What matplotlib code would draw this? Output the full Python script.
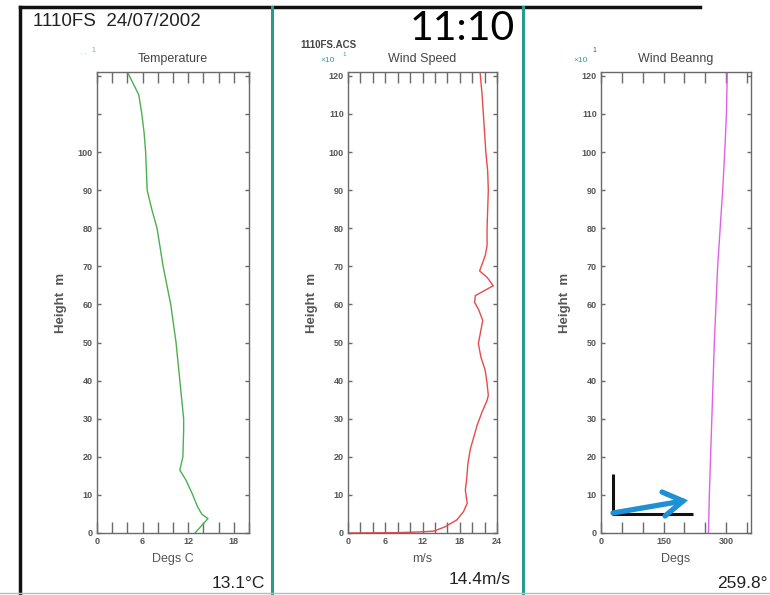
import matplotlib
matplotlib.use("Agg")
import matplotlib.pyplot as plt
from matplotlib.patches import FancyArrowPatch

# ---------------- data ----------------
temp_height = [0, 3.8, 4.9, 7, 10, 13.9, 16.5, 20, 27, 30, 40, 50, 60, 70, 80, 85, 90,
               100, 105, 110, 115, 117, 119, 121]
temp_degc = [12.9, 14.6, 13.8, 13.2, 12.6, 11.7, 10.9, 11.3, 11.4, 11.4, 10.9, 10.4, 9.7,
             8.7, 7.9, 7.2, 6.6, 6.4, 6.2, 5.9, 5.5, 5.0, 4.5, 4.0]

speed_height = [0, 0.1, 0.3, 0.5, 1.6, 3.4, 5.6, 7.8, 11.3, 13.9, 18, 22, 28.3, 31.8, 34.8,
                36.1, 39.3, 42.7, 46.2, 49.7, 52.3, 55.8, 58.8, 60.5, 62.3, 64.9, 67.1,
                68.8, 72.8, 75.4, 80, 85, 90, 95, 100, 105, 110, 115, 120.5]
speed_ms = [0, 8, 11.9, 13.8, 15.6, 17.5, 18.6, 19.2, 18.9, 19.1, 19.3, 19.7, 20.8, 21.6,
            22.4, 22.6, 22.4, 22.1, 21.4, 21.0, 21.3, 21.7, 21.0, 20.4, 20.5, 23.4, 22.4,
            21.2, 22.1, 22.4, 22.4, 22.5, 22.6, 22.5, 22.2, 22.0, 21.8, 21.6, 21.3]

bearing_height = [0, 5, 10, 20, 30, 40, 50, 60, 70, 80, 90, 100, 110, 120.5]
bearing_deg = [258, 259, 260, 263, 266, 269, 272, 276, 280, 286, 292, 297, 301, 303]

panel_titles = ["Temperature", "Wind Speed", "Wind Beanng"]
x_labels = ["Degs C", "m/s", "Degs"]
surface_values = ["13.1°C", "14.4m/s", "259.8°"]
header_text = "1110FS  24/07/2002"
time_text = "11:10"
file_text = "1110FS.ACS"

temp_xticks = list(range(0, 21, 2))
temp_xlabels = [0, 6, 12, 18]
speed_xticks = list(range(0, 25, 2))
speed_xlabels = [0, 6, 12, 18, 24]
bear_xticks = list(range(0, 351, 50))
bear_xlabels = [0, 150, 300]
y_ticks = list(range(0, 121, 10))

# ---------------- layout ----------------
W, H = 770, 595
fig = plt.figure(figsize=(W / 100, H / 100), dpi=100)
fig.patch.set_facecolor("white")

GRAY = "#6a6a6a"
TEXT = "#555555"
FONT = ["Liberation Sans", "DejaVu Sans"]


def add_px_axes(left, right, top, bottom):
    return fig.add_axes([left / W, (H - bottom) / H, (right - left) / W, (bottom - top) / H])


def style_axes(ax, xlim, xticks, xlabels, color, xdata, ydata, xlabel, title, ylab_show=None):
    ax.plot(xdata, ydata, color=color, lw=1.0)
    ax.set_xlim(*xlim)
    ax.set_ylim(0, 121)
    for s in ax.spines.values():
        s.set_color(GRAY)
        s.set_linewidth(1.0)
    ax.set_xticks(xticks)
    ax.set_xticklabels([str(t) if t in xlabels else "" for t in xticks])
    ax.tick_params(axis="x", direction="in", length=8, width=1, colors=GRAY,
                   top=True, bottom=True, labelsize=6.5, labelcolor=TEXT, pad=3)
    ax.set_yticks(y_ticks)
    if ylab_show is None:
        ylab_show = y_ticks
    ax.set_yticklabels([str(t) if t in ylab_show else "" for t in y_ticks])
    ax.tick_params(axis="y", direction="in", length=3, width=1, colors=GRAY,
                   left=True, right=True, labelsize=6.5, labelcolor=TEXT, pad=3)
    for lab in ax.get_xticklabels() + ax.get_yticklabels():
        lab.set_family(FONT)
        lab.set_fontweight("bold")
    ax.set_xlabel(xlabel, fontsize=9, color=TEXT, family=FONT, labelpad=5)
    ax.set_ylabel("Height  m", fontsize=9.5, color=TEXT, family=FONT, fontweight="bold",
                  labelpad=8)
    ax.set_title(title, fontsize=9, color="#444444", family=FONT, pad=7)


ax1 = add_px_axes(97, 249, 72, 533)
style_axes(ax1, (0, 20), temp_xticks, temp_xlabels, "#4caf50", temp_degc, temp_height,
           x_labels[0], panel_titles[0], ylab_show=list(range(0, 101, 10)))

ax2 = add_px_axes(348, 497, 72, 533)
style_axes(ax2, (0, 24), speed_xticks, speed_xlabels, "#e84a4a", speed_ms, speed_height,
           x_labels[1], panel_titles[1])

ax3 = add_px_axes(601, 751, 72, 533)
style_axes(ax3, (0, 360), bear_xticks, bear_xlabels, "#e060e8", bearing_deg, bearing_height,
           x_labels[2], panel_titles[2])

# ---------------- overlay decorations ----------------
ov = fig.add_axes([0, 0, 1, 1], zorder=10)
ov.set_xlim(0, W)
ov.set_ylim(H, 0)
ov.axis("off")
ov.patch.set_alpha(0)

# borders
ov.plot([20, 700], [7, 7], color="#111111", lw=2.5)
ov.plot([20, 20], [7, 595], color="#111111", lw=2.5)
ov.plot([272, 272], [7, 595], color="#2a9a8c", lw=2.2)
ov.plot([523, 523], [7, 595], color="#2a9a8c", lw=2.2)
ov.plot([0, W], [593, 593], color="#bbbbbb", lw=1)

# header texts
ov.text(33, 21, header_text, fontsize=13.5, family=FONT, color="#222222", va="center", ha="left")
ov.text(462, 29, time_text, fontsize=29.5, family=["Lato", "DejaVu Sans"], color="black",
        va="center", ha="center")
ov.text(300, 45, file_text, fontsize=7, family=FONT, color="#444444", va="center",
        fontweight="bold")

# x10^1 multipliers
ov.text(80, 55, "· ·", fontsize=5, family=FONT, color="#88aaaa", va="center")
ov.text(91, 50, "1", fontsize=5, family=FONT, color="#6fa8a8", va="center")
ov.text(320, 60, "×10", fontsize=6, family=FONT, color="#3a9a9a", va="center")
ov.text(342, 54, "1", fontsize=4.5, family=FONT, color="#3a9a9a", va="center")
ov.text(573, 60, "×10", fontsize=6, family=FONT, color="#3a9a9a", va="center")
ov.text(592, 51, "1", fontsize=5, family=FONT, color="#555555", va="center")

# surface values
ov.text(265, 583, surface_values[0], fontsize=12.5, family=FONT, color="#222222",
        ha="right", va="center")
ov.text(511, 580, surface_values[1], fontsize=12.5, family=FONT, color="#222222",
        ha="right", va="center")
ov.text(768, 584, surface_values[2], fontsize=12.5, family=FONT, color="#222222",
        ha="right", va="center")

# wind direction sketch
ov.plot([613, 613, 693], [474, 514, 514], color="#111111", lw=2.2, solid_capstyle="butt")
ov.plot([613, 683], [513, 501], color="#1e90d6", lw=3.8, solid_capstyle="round")
ov.plot([662, 683, 665], [492, 501, 516], color="#1e90d6", lw=3.8,
        solid_capstyle="round", solid_joinstyle="miter")

fig.savefig("out.png", dpi=100)
